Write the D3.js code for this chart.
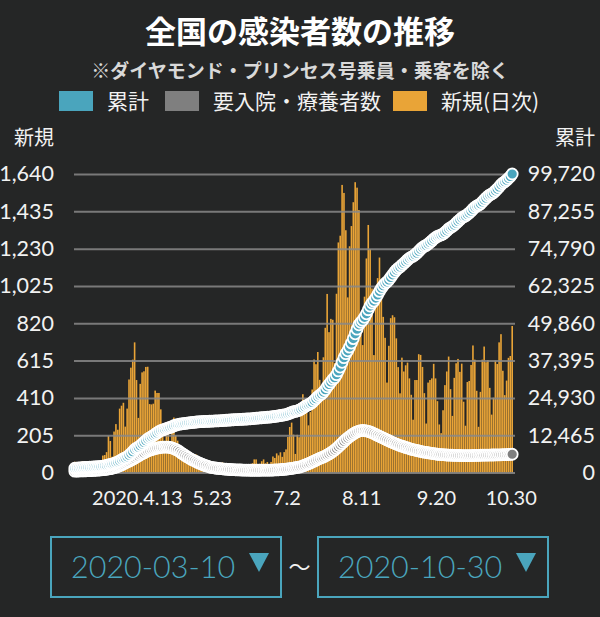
<!DOCTYPE html>
<html><head><meta charset="utf-8">
<script src="https://cdn.jsdelivr.net/npm/d3@7"></script>
<style>
html,body{margin:0;padding:0;background:#252626;}
svg{display:block;}
</style></head><body>
<svg id="chart" width="600" height="617"></svg>
<script>
// ---- data ----
const startDate = "2020-03-10";
const endDate = "2020-10-30";

// daily new cases (新規・日次), 2020-03-10 .. 2020-10-30
const newCases = [
 59,52,56,44,62,34,15,44,44,39,53,39,43,38,65,93,96,112,200,173,87,225,
 266,235,351,367,383,252,351,511,576,620,715,508,300,487,550,556,580,581,376,374,378,450,437,437,347,226,174,271,213,165,
 264,302,203,175,123,96,98,84,113,60,47,87,54,99,47,53,32,28,30,33,25,28,40,27,21,31,37,56,51,46,41,
 34,42,42,38,40,47,34,19,42,33,39,38,51,72,72,41,48,62,72,50,58,31,58,88,80,105,94,111,86,112,
 127,195,250,274,208,102,207,194,355,430,385,407,259,332,456,621,595,662,509,418,633,795,981,771,844,839,602,982,1264,1301,1580,
 1536,1331,962,1243,1354,1485,1595,1565,1442,843,700,966,1176,1360,1227,1011,645,1012,1068,1181,1034,855,740,494,696,848,864,853,737,579,435,
 631,555,589,604,517,427,290,508,508,650,646,580,436,269,494,508,517,597,517,392,264,216,342,480,555,637,458,311,520,600,
 624,553,598,389,257,497,503,591,698,620,449,251,443,620,692,606,617,465,318,411,614,596,715,760,559,425,505,630,640,805
];

// cumulative cases (累計)
const cumulative = [
 1415,1467,1523,1567,1629,1663,1678,1722,1766,1805,1858,1897,1940,1978,2043,2136,2232,2344,2544,2717,2804,3029,
 3295,3530,3881,4248,4631,4883,5234,5745,6321,6941,7656,8164,8464,8951,9501,10057,10637,11218,11594,11968,12346,12796,13233,13670,14017,14243,14417,14688,14901,15066,
 15330,15632,15835,16010,16133,16229,16327,16411,16524,16584,16631,16718,16772,16871,16918,16971,17003,17031,17061,17094,17119,17147,17187,17214,17235,17266,17303,17359,17410,17456,17497,
 17531,17573,17615,17653,17693,17740,17774,17793,17835,17868,17907,17945,17996,18068,18140,18181,18229,18291,18363,18413,18471,18502,18560,18648,18728,18833,18927,19038,19124,19236,
 19363,19558,19808,20082,20290,20392,20599,20793,21148,21578,21963,22370,22629,22961,23417,24038,24633,25295,25804,26222,26855,27650,28631,29402,30246,31085,31687,32669,33933,35234,36814,
 38350,39681,40643,41886,43240,44725,46320,47885,49327,50170,50870,51836,53012,54372,55599,56610,57255,58267,59335,60516,61550,62405,63145,63639,64335,65183,66047,66900,67637,68216,68651,
 69282,69837,70426,71030,71547,71974,72264,72772,73280,73930,74576,75156,75592,75861,76355,76863,77380,77977,78494,78886,79150,79366,79708,80188,80743,81380,81838,82149,82669,83269,
 83893,84446,85044,85433,85690,86187,86690,87281,87979,88599,89048,89299,89742,90362,91054,91660,92277,92742,93060,93471,94085,94681,95396,96156,96715,97140,97645,98275,98915,99720
];

// people requiring hospitalisation / recuperation (要入院・療養者数)
const active = [
 450,470,490,510,530,550,570,600,630,660,700,
 740,780,820,870,930,1000,1080,1180,1290,1420,1600,
 1800,2050,2300,2550,2850,3200,
 3500,3800,4100,4450,4800,
 5200,5550,5900,6250,6550,6900,7200,
 7450,7650,7850,8000,8150,8300,
 8400,8450,8500,8500,
 8450,8350,8200,8000,
 7700,7400,7000,6500,
 6100,5700,5300,4900,4500,
 4200,3900,3600,3300,3000,
 2750,2500,2300,2100,1900,1700,
 1600,1500,1420,1350,1280,1220,1160,1110,1050,1000,
 960,930,900,880,860,840,820,800,790,780,760,750,
 750,750,760,760,770,770,780,790,790,800,
 820,850,880,910,950,1000,1050,1100,
 1180,1280,1380,1480,1580,1680,1800,
 1980,2200,2450,2700,2950,3200,3500,3800,
 4100,4400,4700,4950,5200,5500,
 5850,6200,6600,7000,7500,8000,
 8600,9200,9800,10400,11000,
 11500,12000,12450,12900,13300,
 13600,13850,14000,
 14050,14000,13900,
 13750,13550,13300,13000,
 12700,12400,12100,11800,11500,
 11200,10900,10600,10300,10000,
 9750,9500,9250,9000,8800,
 8600,8400,8200,8000,7800,
 7650,7500,7350,7200,7050,
 6900,6800,6700,6600,6500,
 6400,6300,6200,6100,6050,
 6000,5950,5900,5850,5800,
 5780,5760,5740,5720,5700,
 5680,5660,5650,5640,5640,
 5650,5660,5680,5700,5720,
 5740,5760,5780,5800,5810,
 5820,5830,5840,5850,5860,
 5880,5900,5920,5940,5960,
 5990,6020,6060,6100
];

const leftTicks = [0,205,410,615,820,1025,1230,1435,1640];
const rightTicks = [0,12465,24930,37395,49860,62325,74790,87255,99720];
const xTickDates = ["2020-04-13","2020-05-23","2020-07-02","2020-08-11","2020-09-20","2020-10-30"];
const xTickLabels = ["2020.4.13","5.23","7.2","8.11","9.20","10.30"];
const legendLabels = ["累計","要入院・療養者数","新規(日次)"];
const selectLabels = ["2020-03-10","2020-10-30"];

// ---- drawing ----
const C = {bg:"#252626", teal:"#4aa5bd", gray:"#7f7f7f", orange:"#e9a437", grid:"#888888", text:"#f2f2f2"};
const numFont = "Lato, 'Noto Sans', sans-serif";
const jpFont = "'Noto Sans CJK JP', 'Noto Sans', sans-serif";

const fmtDay = d3.timeFormat("%Y-%m-%d");
const parse = d3.timeParse("%Y-%m-%d");
const dates = d3.timeDay.range(parse(startDate), d3.timeDay.offset(parse(endDate), 1)).map(fmtDay);

const svg = d3.select("#chart");
svg.append("rect").attr("width",600).attr("height",617).attr("fill",C.bg);

const plotL = 74, plotR = 513, plotB = 472.5, plotT = 174;
const x = d3.scaleBand().domain(dates).range([plotL, plotR]).paddingInner(0.14).paddingOuter(0);
const yL = d3.scaleLinear().domain([0, leftTicks[leftTicks.length-1]]).range([plotB, plotT]);
const yR = d3.scaleLinear().domain([0, rightTicks[rightTicks.length-1]]).range([plotB, plotT]);
const cx = d => x(d) + x.bandwidth()/2;

// title
svg.append("text").attr("x",300).attr("y",43).attr("text-anchor","middle")
  .attr("font-family",jpFont).attr("font-weight",700).attr("font-size",31).attr("fill","#ffffff")
  .text("全国の感染者数の推移");
svg.append("text").attr("x",300).attr("y",78).attr("text-anchor","middle")
  .attr("font-family",jpFont).attr("font-weight",700).attr("font-size",19).attr("fill","#d9d9d9")
  .text("※ダイヤモンド・プリンセス号乗員・乗客を除く");

// legend
const legColors = [C.teal, C.gray, C.orange];
const legX = [59, 165, 393];
const leg = svg.append("g");
legendLabels.forEach((t,i)=>{
  leg.append("rect").attr("x",legX[i]).attr("y",91).attr("width",34).attr("height",20).attr("fill",legColors[i]);
  leg.append("text").attr("x",legX[i]+48).attr("y",109).attr("font-family",jpFont).attr("font-size",21)
    .attr("fill",C.text).text(t);
});

// axis titles
svg.append("text").attr("x",54).attr("y",145).attr("text-anchor","end").attr("font-family",jpFont)
  .attr("font-size",20).attr("fill",C.text).text("新規");
svg.append("text").attr("x",595).attr("y",145).attr("text-anchor","end").attr("font-family",jpFont)
  .attr("font-size",20).attr("fill",C.text).text("累計");

// bars
svg.append("g").selectAll("rect").data(newCases).join("rect")
  .attr("x",(d,i)=>x(dates[i])).attr("width",x.bandwidth())
  .attr("y",d=>yL(d)).attr("height",d=>plotB-yL(d)).attr("fill",C.orange);

// left axis with gridlines
const gL = svg.append("g").attr("transform",`translate(${plotL},0)`)
  .call(d3.axisLeft(yL).tickValues(leftTicks).tickSizeInner(-(plotR-plotL+2)).tickSizeOuter(0)
    .tickPadding(20).tickFormat(d3.format(",")));
gL.select(".domain").remove();
gL.selectAll(".tick line").attr("stroke",C.grid).attr("stroke-width",2).attr("opacity",0.85);
gL.selectAll(".tick text").attr("font-family",numFont).attr("font-size",21.5).attr("fill",C.text);

// right axis
const gR = svg.append("g").attr("transform","translate(595,0)")
  .call(d3.axisRight(yR).tickValues(rightTicks).tickSize(0).tickPadding(0).tickFormat(d3.format(",")));
gR.select(".domain").remove();
gR.selectAll(".tick text").attr("text-anchor","end").attr("x",0)
  .attr("font-family",numFont).attr("font-size",21.5).attr("fill",C.text);

// x axis
const gX = svg.append("g").attr("transform",`translate(0,${plotB})`)
  .call(d3.axisBottom(x).tickValues(xTickDates).tickSize(0).tickFormat((d,i)=>xTickLabels[i]));
gX.select(".domain").remove();
gX.selectAll(".tick text").attr("y",32).attr("dy",0).attr("dx",-1)
  .attr("font-family",numFont).attr("font-size",20).attr("fill",C.text);

// active (要入院・療養者数) circles
svg.append("g").selectAll("circle").data(active).join("circle")
  .attr("cx",(d,i)=>cx(dates[i])).attr("cy",d=>yR(d)).attr("r",5.5)
  .attr("fill",C.gray).attr("stroke","#ffffff").attr("stroke-width",1.8);

// cumulative circles
svg.append("g").selectAll("circle").data(cumulative).join("circle")
  .attr("cx",(d,i)=>cx(dates[i])).attr("cy",d=>yR(d)).attr("r",5.5)
  .attr("fill",C.teal).attr("stroke","#ffffff").attr("stroke-width",1.8);

// date selectors
const boxes = [{x:51, w:230},{x:318, w:230}];
boxes.forEach((b,i)=>{
  svg.append("rect").attr("x",b.x).attr("y",537).attr("width",b.w).attr("height",60)
    .attr("fill","none").attr("stroke",C.teal).attr("stroke-width",2);
  svg.append("text").attr("x",b.x+20).attr("y",578).attr("font-family",numFont).attr("font-weight",300)
    .attr("font-size",30.5).attr("fill",C.teal).text(selectLabels[i]);
  const tx = b.x + 198;
  svg.append("path").attr("d",`M${tx},553 L${tx+20},553 L${tx+10},572 Z`).attr("fill",C.teal);
});
svg.append("text").attr("x",299.5).attr("y",575).attr("text-anchor","middle").attr("font-family",jpFont)
  .attr("font-size",22).attr("fill",C.text).text("～");
</script>
</body></html>
